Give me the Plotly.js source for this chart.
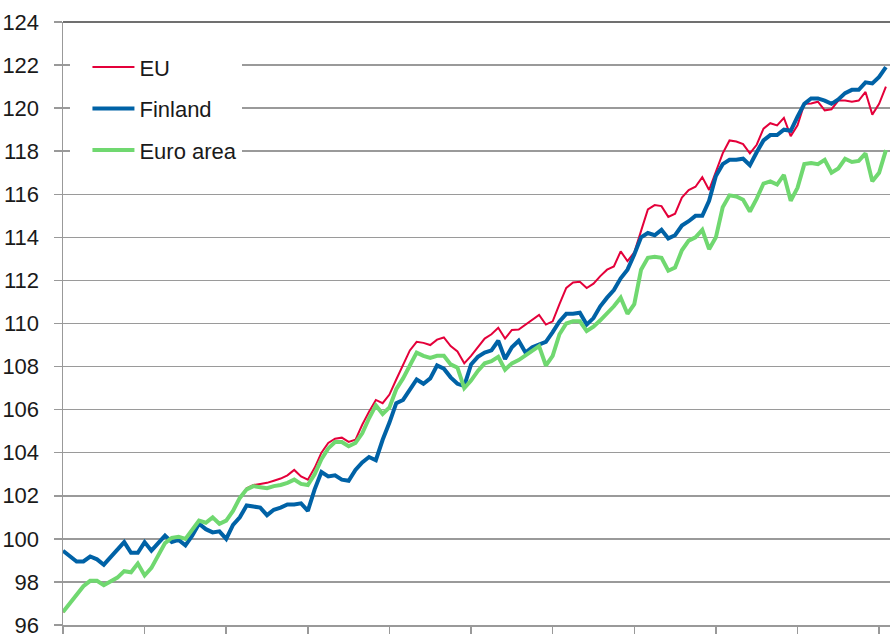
<!DOCTYPE html>
<html>
<head>
<meta charset="utf-8">
<script src="https://cdn.plot.ly/plotly-3.0.1.min.js"></script>
<style>
html,body{margin:0;padding:0;background:#fff;}
#chart{width:890px;height:634px;}
</style>
</head>
<body>
<div id="chart"></div>
<script>
// Monthly index values (one value per month, ticks every 12 months)
const seriesNames = ["EU", "Finland", "Euro area"];

const euValues = [
  96.6, 97.0, 97.4, 97.8, 98.05, 98.05, 97.85, 98.05, 98.2, 98.5, 98.45, 98.85,
  98.3, 98.65, 99.2, 99.8, 100.05, 100.1, 100.0, 100.4, 100.85, 100.75, 101.0, 100.7,
  100.85, 101.3, 101.9, 102.35, 102.5, 102.55, 102.6, 102.7, 102.8, 102.95, 103.2, 102.9,
  102.75, 103.3, 104.0, 104.45, 104.65, 104.7, 104.5, 104.6, 105.3, 105.9, 106.45, 106.3,
  106.7, 107.4, 108.05, 108.75, 109.15, 109.1, 109.0, 109.25, 109.35, 108.95, 108.7, 108.15,
  108.5, 108.9, 109.3, 109.5, 109.8, 109.3, 109.7, 109.72, 109.95, 110.15, 110.4, 109.95,
  110.1, 110.9, 111.65, 111.9, 111.94, 111.65, 111.85, 112.2, 112.5, 112.65, 113.35, 112.9,
  113.3, 114.3, 115.3, 115.5, 115.45, 114.95, 115.1, 115.85, 116.2, 116.35, 116.8, 116.2,
  117.05, 117.9, 118.5, 118.45, 118.33, 117.9, 118.3, 119.05, 119.3, 119.2, 119.55, 118.7,
  119.2, 120.2, 120.22, 120.3, 119.9, 119.95, 120.35, 120.35, 120.3, 120.35, 120.75, 119.7,
  120.2, 121.0
];

const finlandValues = [
  99.45, 99.2, 98.95, 98.95, 99.18, 99.05, 98.8, 99.15, 99.5, 99.85, 99.35, 99.35,
  99.85, 99.45, 99.8, 100.15, 99.85, 99.95, 99.7, 100.15, 100.7, 100.45, 100.3, 100.35,
  100.0, 100.65, 101.0, 101.55, 101.5, 101.45, 101.1, 101.35, 101.45, 101.6, 101.6, 101.65,
  101.3, 102.3, 103.1, 102.9, 102.95, 102.75, 102.7, 103.2, 103.55, 103.8, 103.65, 104.6,
  105.4, 106.3, 106.45, 106.9, 107.4, 107.2, 107.45, 108.05, 107.9, 107.5, 107.2, 107.1,
  108.1, 108.45, 108.65, 108.75, 109.2, 108.35, 108.9, 109.2, 108.65, 108.9, 109.05, 109.15,
  109.6, 110.1, 110.45, 110.45, 110.5, 109.95, 110.25, 110.8, 111.2, 111.55, 112.1, 112.5,
  113.2, 114.0, 114.2, 114.1, 114.35, 113.95, 114.1, 114.55, 114.75, 115.0, 115.0, 115.7,
  116.85, 117.4, 117.6, 117.6, 117.65, 117.35, 117.95, 118.5, 118.75, 118.75, 119.0, 118.95,
  119.6, 120.2, 120.45, 120.45, 120.35, 120.2, 120.4, 120.7, 120.85, 120.85, 121.2, 121.15,
  121.45, 121.9
];

const euroAreaValues = [
  96.6, 97.0, 97.4, 97.8, 98.05, 98.05, 97.85, 98.05, 98.2, 98.5, 98.45, 98.85,
  98.3, 98.65, 99.2, 99.8, 100.05, 100.1, 100.0, 100.4, 100.85, 100.75, 101.0, 100.7,
  100.85, 101.3, 101.9, 102.3, 102.45, 102.4, 102.35, 102.45, 102.5, 102.6, 102.75, 102.55,
  102.5, 103.0, 103.7, 104.2, 104.5, 104.5, 104.3, 104.45, 104.9, 105.6, 106.2, 105.8,
  106.1, 106.95, 107.45, 108.05, 108.65, 108.5, 108.4, 108.5, 108.5, 108.1, 107.95, 107.0,
  107.35, 107.8, 108.15, 108.25, 108.45, 107.85, 108.15, 108.3, 108.5, 108.7, 108.95, 108.05,
  108.5, 109.5, 110.0, 110.1, 110.1, 109.65, 109.85, 110.15, 110.45, 110.8, 111.2, 110.45,
  110.9, 112.5, 113.05, 113.1, 113.05, 112.45, 112.6, 113.4, 113.85, 114.0, 114.35, 113.45,
  114.0, 115.4, 115.95, 115.9, 115.75, 115.2, 115.8, 116.5, 116.6, 116.45, 116.9, 115.7,
  116.3, 117.4, 117.45, 117.4, 117.6, 117.0, 117.2, 117.65, 117.5, 117.55, 117.9, 116.6,
  117.0, 118.05
];

const yTickVals = [96, 98, 100, 102, 104, 106, 108, 110, 112, 114, 116, 118, 120, 122, 124];

const months = euValues.map((_, i) => i);

const FONT = '"Liberation Sans", Arial, sans-serif';

const traces = [
  {x: months, y: euValues, name: seriesNames[0], type: 'scatter', mode: 'lines',
   line: {color: '#e4003a', width: 2}, legendgroup: 'a'},
  {x: months, y: finlandValues, name: seriesNames[1], type: 'scatter', mode: 'lines',
   line: {color: '#0062a6', width: 4}, legendgroup: 'b'},
  {x: months, y: euroAreaValues, name: seriesNames[2], type: 'scatter', mode: 'lines',
   line: {color: '#70d870', width: 4}, legendgroup: 'c'}
];

const layout = {
  width: 890, height: 634,
  margin: {l: 63, r: 0, t: 22, b: 9, pad: 0},
  paper_bgcolor: '#ffffff', plot_bgcolor: '#ffffff',
  font: {family: FONT, size: 22, color: '#1a1a1a'},
  showlegend: true,
  legend: {
    x: 0.009, y: 0.96, xanchor: 'left', yanchor: 'top',
    bgcolor: '#ffffff', borderwidth: 0,
    font: {family: FONT, size: 22, color: '#1a1a1a'},
    itemwidth: 42, indentation: 17,
    traceorder: 'grouped', tracegroupgap: 10
  },
  xaxis: {
    range: [0, 121.6], showgrid: false, zeroline: false,
    tickmode: 'linear', tick0: 0, dtick: 12,
    ticks: 'outside', ticklen: 7, tickcolor: '#999999', tickwidth: 1.5,
    showticklabels: false, showline: true, linecolor: '#999999', linewidth: 1.5,
    fixedrange: true
  },
  yaxis: {
    range: [96, 124], tickvals: yTickVals, ticktext: yTickVals.map(String),
    showgrid: true, gridcolor: '#9a9a9a', gridwidth: 1.5, zeroline: false,
    ticks: 'outside', ticklen: 8, tickcolor: '#999999', tickwidth: 1.5,
    ticklabelstandoff: 10, ticklabeloverflow: 'allow',
    showline: true, linecolor: '#999999', linewidth: 1.5,
    tickfont: {family: FONT, size: 22, color: '#1a1a1a'},
    fixedrange: true
  },
  shapes: [
    {type: 'line', xref: 'paper', yref: 'paper', x0: 0, x1: 1, y0: 1, y1: 1,
     line: {color: '#404040', width: 1.5}}
  ]
};

Plotly.newPlot('chart', traces, layout, {staticPlot: true, displayModeBar: false});
</script>
</body>
</html>
